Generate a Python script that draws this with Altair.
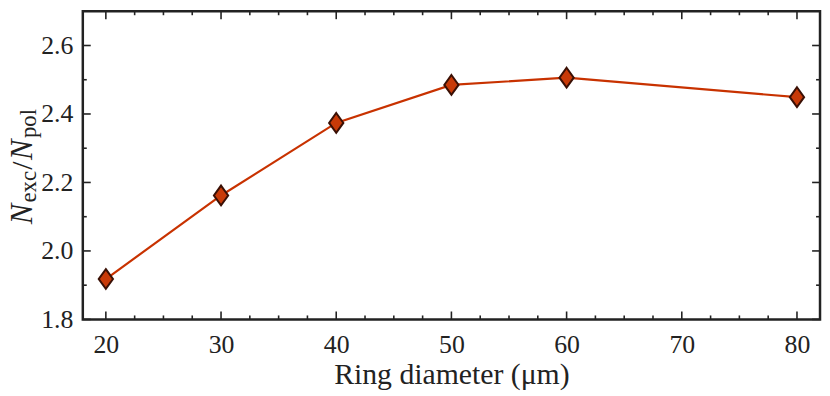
import altair as alt
import pandas as pd

# data
diameter = [20, 30, 40, 50, 60, 80]
ratio = [1.918, 2.162, 2.374, 2.485, 2.506, 2.449]

x_major = [20, 30, 40, 50, 60, 70, 80]
x_minor = [22.5, 25, 27.5, 32.5, 35, 37.5, 42.5, 45, 47.5, 52.5, 55, 57.5,
           62.5, 65, 67.5, 72.5, 75, 77.5]
y_major = [1.8, 2.0, 2.2, 2.4, 2.6]
y_minor = [1.9, 2.1, 2.3, 2.5]

W, H = 744, 311
FONT = "Liberation Serif"
INK = "#222222"

xs = alt.Scale(domain=[18, 82], nice=False, zero=False)
ys = alt.Scale(domain=[1.8, 2.7], nice=False, zero=False)

xaxis = alt.Axis(values=x_major, format="d", ticks=False, domain=False, grid=False,
                 labelFont=FONT, labelFontSize=26, labelPadding=12, labelColor=INK,
                 title="Ring diameter (μm)", titleFont=FONT, titleFontSize=30,
                 titleFontWeight="normal", titlePadding=3, titleColor=INK)
yaxis = alt.Axis(values=y_major, format=".1f", ticks=False, domain=False, grid=False,
                 labelFont=FONT, labelFontSize=26, labelPadding=10, labelColor=INK,
                 title="")

X = alt.X("d:Q", scale=xs, axis=xaxis)
Y = alt.Y("r:Q", scale=ys, axis=yaxis)

df = pd.DataFrame({"d": diameter, "r": ratio})
base = alt.Chart(df)

line = base.mark_line(color="#c83200", strokeWidth=2.2).encode(x=X, y=Y)
pts = base.mark_point(shape="M0,-1L0.72,0L0,1L-0.72,0Z", size=400, filled=True,
                      fill="#c83a08", stroke="#3a1005", strokeWidth=2,
                      opacity=1).encode(x=X, y=Y)


def xticks(vals, length):
    d = pd.DataFrame({"d": vals})
    bot = alt.Chart(d).mark_rule(color=INK, strokeWidth=1.6).encode(
        x=X, y=alt.value(H), y2=alt.value(H - length))
    top = alt.Chart(d).mark_rule(color=INK, strokeWidth=1.6).encode(
        x=X, y=alt.value(0), y2=alt.value(length))
    return [bot, top]


def yticks(vals, length):
    d = pd.DataFrame({"r": vals})
    left = alt.Chart(d).mark_rule(color=INK, strokeWidth=1.6).encode(
        y=Y, x=alt.value(0), x2=alt.value(length))
    right = alt.Chart(d).mark_rule(color=INK, strokeWidth=1.6).encode(
        y=Y, x=alt.value(W), x2=alt.value(W - length))
    return [left, right]


tick_layers = xticks(x_major, 8) + xticks(x_minor, 4) + yticks(y_major, 8) + yticks(y_minor, 4)


def piece(text, x, y, size, italic=False):
    return alt.Chart(alt.Data(values=[{}])).mark_text(
        text=text, angle=270, align="left", baseline="alphabetic",
        font=FONT, fontSize=size, fontStyle="italic" if italic else "normal",
        color=INK).encode(x=alt.value(x), y=alt.value(y))


title_layers = [
    piece("N", -51.5, 215, 31, True),
    piece("exc", -47, 193, 23),
    piece("/", -51.5, 160, 30),
    piece("N", -51.5, 150, 31, True),
    piece("pol", -47, 128, 23),
]

chart = alt.layer(line, pts, *tick_layers, *title_layers).properties(
    width=W, height=H,
    autosize=alt.AutoSizeParams(type="none"),
    padding={"left": 75.5, "top": 1.5, "right": 2, "bottom": 76},
).configure_view(stroke=INK, strokeWidth=2.5)

chart.save("out.html", embed_options={"renderer": "svg", "actions": False})
